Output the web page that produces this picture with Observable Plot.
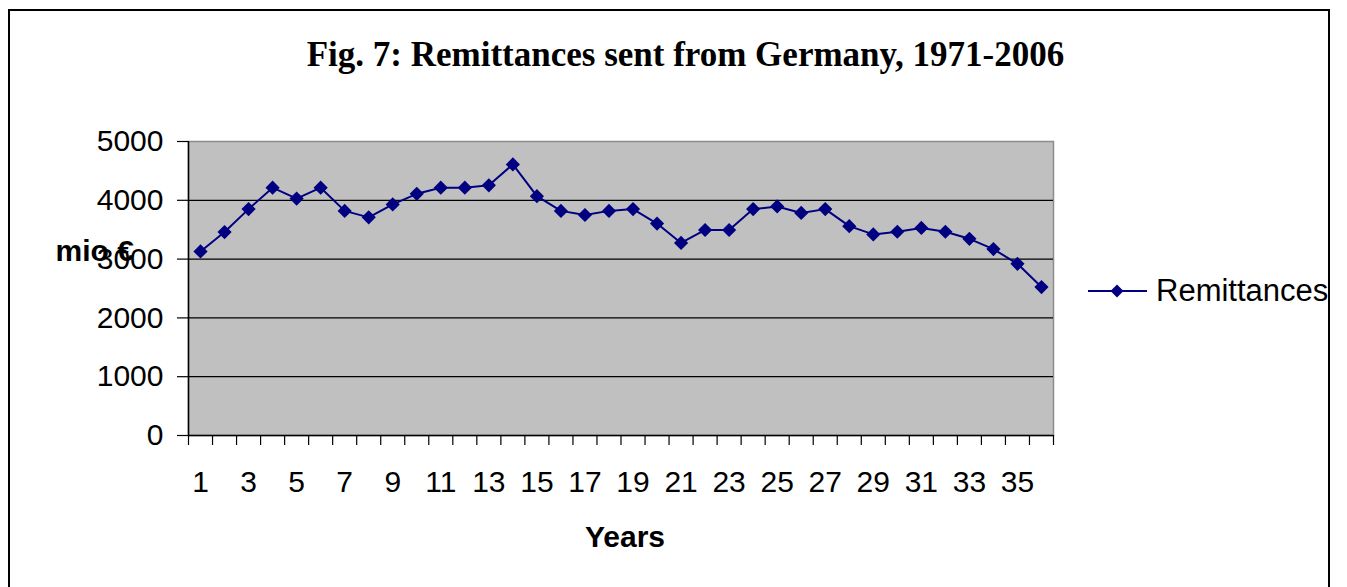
<!DOCTYPE html>
<html>
<head>
<meta charset="utf-8">
<script src="https://cdn.jsdelivr.net/npm/d3@7"></script>
<script src="https://cdn.jsdelivr.net/npm/@observablehq/plot@0.6"></script>
<style>
  html, body { margin: 0; padding: 0; background: #fff; }
  #wrap { position: relative; width: 1347px; height: 587px; overflow: hidden; font-family: "Liberation Sans", Arial, sans-serif; }
  #border { position: absolute; left: 8px; top: 9px; width: 1322px; height: 640px; border: 2px solid #000; box-sizing: border-box; pointer-events: none; }
  #title { height: 100px; line-height: 110px; text-align: center; font-family: "Liberation Serif", "Times New Roman", serif; font-weight: bold; font-size: 35px; color: #000; padding-left: 24px; box-sizing: border-box; white-space: nowrap; }
  #legend { position: absolute; left: 1088px; top: 273px; height: 36px; display: flex; align-items: center; font-size: 31px; color: #000; }
  #legend svg { margin-right: 8px; }
  svg { display: block; }
</style>
</head>
<body>
<div id="wrap">
  <div id="border"></div>
  <div id="title"></div>
  <div id="chart"></div>
  <div id="legend"></div>
</div>
<script>
const titleText = "Fig. 7: Remittances sent from Germany, 1971-2006";
const seriesName = "Remittances";
const yLabel = "mio €";
const xLabel = "Years";
const years = [1,2,3,4,5,6,7,8,9,10,11,12,13,14,15,16,17,18,19,20,21,22,23,24,25,26,27,28,29,30,31,32,33,34,35,36];
const values = [3130,3460,3850,4215,4030,4215,3820,3710,3930,4110,4215,4215,4255,4610,4070,3820,3750,3820,3850,3605,3275,3495,3495,3850,3895,3785,3850,3560,3420,3465,3530,3465,3345,3170,2920,2525];
const yTicks = [0,1000,2000,3000,4000,5000];
const xTickLabels = [1,3,5,7,9,11,13,15,17,19,21,23,25,27,29,31,33,35];

const data = years.map((y, i) => ({year: y, value: values[i]}));
const boundaries = [years[0] - 0.5, ...years.map(y => y + 0.5)];
const navy = "#000080";

document.getElementById("title").textContent = titleText;

const chart = Plot.plot({
  width: 1347,
  height: 487,
  marginLeft: 188,
  marginRight: 294,
  marginTop: 41,
  marginBottom: 152,
  style: {fontFamily: "'Liberation Sans', Arial, sans-serif", fontSize: "30px", background: "transparent", overflow: "visible", color: "#000"},
  x: {type: "linear", domain: [boundaries[0], boundaries[boundaries.length - 1]], label: null},
  y: {domain: [0, 5000], label: null},
  marks: [
    Plot.frame({fill: "#c0c0c0", stroke: "#8c8c8c", strokeWidth: 1.5}),
    Plot.gridY(yTicks.slice(1, -1), {stroke: "#000", strokeOpacity: 1, strokeWidth: 1.2}),
    Plot.ruleX([boundaries[0]], {stroke: "#000", strokeWidth: 1.5}),
    Plot.ruleY([0], {stroke: "#000", strokeWidth: 1.5}),
    Plot.axisY(yTicks, {tickSize: 11, tickPadding: 14, fontSize: 30, tickFormat: d => String(d), label: null, strokeWidth: 1.2}),
    Plot.axisX(boundaries, {tickSize: 10, tickFormat: () => "", label: null, strokeWidth: 1.2}),
    Plot.axisX(xTickLabels, {tickSize: 0, tickPadding: 35, fontSize: 30, tickFormat: d => String(d), label: null}),
    Plot.line(data, {x: "year", y: "value", stroke: navy, strokeWidth: 2}),
    Plot.dot(data, {x: "year", y: "value", symbol: "diamond2", r: 6.4, fill: navy, stroke: "none"}),
    Plot.text([yLabel], {text: d => d, frameAnchor: "top-left", dx: -133, dy: 98, textAnchor: "start", fontWeight: "bold", fontSize: 30}),
    Plot.text([xLabel], {text: d => d, frameAnchor: "bottom", dy: 111, dx: 4, fontWeight: "bold", fontSize: 30})
  ]
});
document.getElementById("chart").appendChild(chart);

const leg = document.getElementById("legend");
leg.innerHTML = `<svg width="60" height="20" viewBox="0 0 60 20"><line x1="0" y1="10" x2="59" y2="10" stroke="${navy}" stroke-width="2"/><path d="M29,3.5 L35.5,10 L29,16.5 L22.5,10 Z" fill="${navy}"/></svg><span></span>`;
leg.querySelector("span").textContent = seriesName;
</script>
</body>
</html>
